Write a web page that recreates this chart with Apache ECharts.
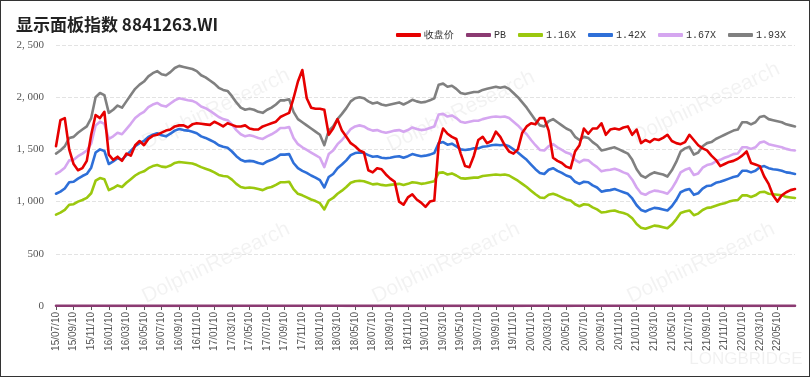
<!DOCTYPE html>
<html>
<head>
<meta charset="utf-8">
<script src="https://cdn.jsdelivr.net/npm/echarts@6/dist/echarts.min.js"></script>
<style>
html,body{margin:0;padding:0;background:#fff;}
#wrap{width:808px;height:375px;border:1px solid #333;}
#chart{width:808px;height:375px;}
</style>
</head>
<body>
<div id="wrap"><div id="chart"></div></div>
<script>
const categories = [
'15/07/10','15/07/25','15/08/10','15/08/25','15/09/10','15/09/25','15/10/10','15/10/25','15/11/10','15/11/25','15/12/10','15/12/25',
'16/01/10','16/01/25','16/02/10','16/02/25','16/03/10','16/03/25','16/04/10','16/04/25','16/05/10','16/05/25','16/06/10','16/06/25','16/07/10','16/07/25','16/08/10','16/08/25','16/09/10','16/09/25','16/10/10','16/10/25','16/11/10','16/11/25','16/12/10','16/12/25',
'17/01/10','17/01/25','17/02/10','17/02/25','17/03/10','17/03/25','17/04/10','17/04/25','17/05/10','17/05/25','17/06/10','17/06/25','17/07/10','17/07/25','17/08/10','17/08/25','17/09/10','17/09/25','17/10/10','17/10/25','17/11/10','17/11/25','17/12/10','17/12/25',
'18/01/10','18/01/25','18/02/10','18/02/25','18/03/10','18/03/25','18/04/10','18/04/25','18/05/10','18/05/25','18/06/10','18/06/25','18/07/10','18/07/25','18/08/10','18/08/25','18/09/10','18/09/25','18/10/10','18/10/25','18/11/10','18/11/25','18/12/10','18/12/25',
'19/01/10','19/01/25','19/02/10','19/02/25','19/03/10','19/03/25','19/04/10','19/04/25','19/05/10','19/05/25','19/06/10','19/06/25','19/07/10','19/07/25','19/08/10','19/08/25','19/09/10','19/09/25','19/10/10','19/10/25','19/11/10','19/11/25','19/12/10','19/12/25',
'20/01/10','20/01/25','20/02/10','20/02/25','20/03/10','20/03/25','20/04/10','20/04/25','20/05/10','20/05/25','20/06/10','20/06/25','20/07/10','20/07/25','20/08/10','20/08/25','20/09/10','20/09/25','20/10/10','20/10/25','20/11/10','20/11/25','20/12/10','20/12/25',
'21/01/10','21/01/25','21/02/10','21/02/25','21/03/10','21/03/25','21/04/10','21/04/25','21/05/10','21/05/25','21/06/10','21/06/25','21/07/10','21/07/25','21/08/10','21/08/25','21/09/10','21/09/25','21/10/10','21/10/25','21/11/10','21/11/25','21/12/10','21/12/25',
'22/01/10','22/01/25','22/02/10','22/02/25','22/03/10','22/03/25','22/04/10','22/04/25','22/05/10','22/05/25','22/06/10','22/06/25','22/07/10'
];

const closePrice = [
1530,1780,1800,1500,1360,1300,1320,1390,1640,1830,
1800,1860,1450,1400,1430,1390,1460,1440,1540,1580,
1540,1600,1630,1640,1660,1680,1690,1720,1730,1730,
1710,1740,1750,1745,1740,1735,1765,1745,1720,1750,
1735,1720,1720,1730,1700,1690,1690,1720,1735,1750,
1765,1810,1830,1850,1990,2150,2260,1990,1900,1890,
1890,1880,1640,1700,1790,1680,1620,1560,1530,1490,
1470,1300,1280,1320,1310,1260,1220,1190,1000,970,
1040,1070,1020,990,950,1000,1010,1550,1700,1650,
1620,1600,1460,1340,1330,1440,1590,1620,1560,1580,
1670,1620,1540,1480,1460,1500,1660,1720,1750,1740,
1800,1800,1680,1420,1390,1370,1335,1320,1480,1540,
1700,1650,1700,1700,1750,1640,1690,1700,1690,1710,
1720,1640,1690,1560,1590,1570,1600,1590,1610,1640,
1580,1560,1550,1570,1640,1590,1540,1510,1490,1440,
1400,1340,1360,1380,1390,1410,1440,1480,1370,1355,
1340,1240,1170,1060,1000,1060,1090,1110,1120
];

const pb = [
2.02,2.31,2.27,1.80,1.62,1.51,1.51,1.56,1.76,1.77,
1.70,1.78,1.51,1.44,1.44,1.41,1.44,1.38,1.43,1.44,
1.38,1.40,1.41,1.41,1.44,1.47,1.46,1.46,1.45,1.46,
1.45,1.48,1.50,1.52,1.53,1.55,1.60,1.61,1.60,1.64,
1.67,1.70,1.75,1.78,1.74,1.73,1.75,1.79,1.78,1.78,
1.77,1.77,1.79,1.80,2.06,2.32,2.48,2.22,2.16,2.18,
2.22,2.36,1.88,1.91,1.93,1.76,1.65,1.54,1.48,1.44,
1.43,1.28,1.27,1.31,1.31,1.27,1.22,1.18,0.99,0.97,
1.03,1.05,1.00,0.98,0.94,0.98,0.98,1.41,1.54,1.52,
1.48,1.48,1.38,1.27,1.26,1.36,1.50,1.51,1.45,1.46,
1.53,1.50,1.42,1.37,1.38,1.45,1.64,1.75,1.84,1.89,
2.01,2.02,1.83,1.53,1.52,1.53,1.52,1.52,1.76,1.87,
2.03,1.98,2.09,2.13,2.27,2.11,2.16,2.16,2.17,2.23,
2.27,2.26,2.50,2.41,2.49,2.40,2.41,2.42,2.47,2.55,
2.35,2.18,2.02,2.01,2.08,2.12,2.02,1.90,1.84,1.77,
1.69,1.60,1.60,1.60,1.60,1.61,1.58,1.62,1.52,1.49,
1.43,1.31,1.26,1.15,1.09,1.16,1.21,1.24,1.26
];

const band116 = [
875,895,920,970,975,1000,1015,1035,1080,1200,
1225,1215,1110,1130,1155,1140,1180,1215,1250,1275,
1290,1320,1340,1350,1335,1330,1345,1370,1380,1375,
1370,1365,1350,1330,1315,1300,1280,1255,1245,1240,
1210,1170,1140,1130,1135,1130,1120,1110,1130,1140,
1160,1185,1185,1190,1120,1075,1060,1040,1020,1005,
985,925,1010,1035,1075,1105,1140,1180,1195,1200,
1195,1180,1165,1170,1160,1155,1160,1165,1170,1160,
1170,1185,1180,1170,1175,1185,1195,1275,1280,1260,
1270,1250,1225,1220,1225,1230,1230,1245,1250,1255,
1260,1255,1260,1250,1225,1200,1170,1140,1105,1070,
1040,1035,1065,1075,1060,1040,1020,1010,975,955,
975,970,945,925,895,900,910,915,900,890,
875,840,785,750,740,755,770,765,755,745,
780,830,890,905,915,870,885,920,940,945,
960,975,985,1000,1010,1015,1060,1060,1045,1060,
1090,1095,1075,1070,1065,1060,1045,1040,1035
];

const band142 = [
1075,1095,1125,1185,1190,1220,1245,1265,1325,1470,
1500,1485,1360,1385,1415,1400,1445,1485,1530,1560,
1580,1620,1640,1655,1635,1625,1650,1680,1695,1685,
1680,1670,1655,1625,1610,1590,1570,1540,1525,1515,
1480,1435,1400,1385,1390,1385,1370,1360,1385,1400,
1420,1450,1450,1455,1370,1320,1295,1275,1250,1230,
1205,1135,1235,1265,1320,1355,1395,1445,1465,1470,
1465,1445,1430,1435,1420,1415,1420,1430,1435,1420,
1435,1455,1445,1435,1440,1450,1465,1560,1570,1545,
1555,1530,1500,1495,1500,1510,1510,1525,1530,1540,
1545,1540,1545,1530,1500,1470,1435,1400,1355,1310,
1275,1265,1305,1320,1295,1275,1250,1235,1190,1170,
1190,1185,1155,1135,1095,1105,1110,1120,1105,1090,
1075,1030,965,920,905,925,940,935,925,915,
955,1015,1090,1110,1120,1065,1080,1125,1150,1155,
1180,1190,1205,1220,1235,1245,1295,1295,1280,1295,
1330,1340,1320,1310,1305,1295,1280,1275,1265
];

const band167 = [
1265,1290,1325,1395,1400,1435,1460,1490,1555,1730,
1765,1745,1600,1625,1660,1645,1695,1745,1800,1835,
1860,1905,1930,1945,1920,1910,1940,1970,1990,1980,
1970,1965,1945,1910,1895,1870,1840,1810,1790,1780,
1740,1685,1645,1625,1635,1625,1610,1600,1625,1645,
1670,1705,1705,1715,1610,1550,1520,1495,1470,1445,
1420,1330,1455,1490,1550,1590,1640,1695,1720,1730,
1720,1695,1680,1685,1670,1660,1670,1680,1685,1670,
1685,1710,1695,1685,1690,1705,1720,1835,1840,1815,
1825,1800,1765,1755,1765,1775,1775,1790,1800,1810,
1815,1810,1815,1800,1765,1730,1685,1645,1590,1540,
1495,1490,1530,1550,1520,1495,1470,1455,1400,1375,
1400,1395,1360,1330,1290,1300,1305,1315,1300,1280,
1265,1210,1135,1080,1065,1090,1105,1100,1090,1075,
1125,1195,1280,1305,1320,1255,1270,1325,1350,1360,
1385,1400,1420,1435,1455,1460,1520,1520,1505,1520,
1565,1575,1550,1540,1530,1520,1505,1495,1490
];

const band193 = [
1460,1490,1530,1610,1620,1660,1690,1720,1800,2000,
2040,2020,1850,1880,1920,1900,1960,2020,2080,2120,
2150,2200,2230,2250,2220,2210,2240,2280,2300,2290,
2280,2270,2250,2210,2190,2160,2130,2090,2070,2060,
2010,1950,1900,1880,1890,1880,1860,1850,1880,1900,
1930,1970,1970,1980,1860,1790,1760,1730,1700,1670,
1640,1540,1680,1720,1790,1840,1895,1960,1990,2000,
1990,1960,1940,1950,1930,1920,1930,1940,1950,1930,
1950,1975,1960,1950,1955,1970,1990,2120,2130,2100,
2110,2080,2040,2030,2040,2050,2050,2070,2080,2090,
2100,2090,2100,2080,2040,2000,1950,1900,1840,1780,
1730,1720,1770,1790,1760,1730,1700,1680,1620,1590,
1620,1610,1570,1540,1490,1500,1510,1520,1500,1480,
1460,1400,1310,1250,1230,1260,1280,1270,1260,1240,
1300,1380,1480,1510,1525,1450,1470,1530,1560,1570,
1600,1620,1640,1660,1680,1690,1760,1760,1740,1760,
1810,1820,1790,1780,1770,1760,1740,1730,1720
];

const seriesNames = ['收盘价','PB','1.16X','1.42X','1.67X','1.93X'];
const seriesColors = ['#e60000','#8b3a72','#9bc80e','#2e6fd8','#d5a6f0','#808080'];
const yTicks = [0, 500, 1000, 1500, 2000, 2500];

const labelShown = (idx) => idx % 4 === 0 && idx <= 164;

function mk(name, data, color, z) {
  return {
    name: name, type: 'line', data: data, symbol: 'none', z: z,
    lineStyle: { width: 2.6, color: color, cap: 'round', join: 'round' },
    itemStyle: { color: color },
    emphasis: { disabled: true }
  };
}

const wm = [];
const wmPos = [[215,108],[460,110],[705,102],[215,262],[445,262],[700,262]];
wmPos.forEach(p => {
  wm.push({
    type: 'text', x: p[0], y: p[1], rotation: Math.PI / 7, z: 0,
    style: { text: 'DolphinResearch', fontSize: 21, fontFamily: 'Liberation Sans',
      fill: 'rgba(0,0,0,0.05)', align: 'center', verticalAlign: 'middle' }
  });
});
wm.push({ type: 'text', x: 745, y: 358, z: 0,
  style: { text: 'LONGBRIDGE', fontSize: 17, fontFamily: 'Liberation Sans', fill: 'rgba(0,0,0,0.06)', align: 'center', verticalAlign: 'middle' } });

const chart = echarts.init(document.getElementById('chart'), null, { renderer: 'canvas' });
chart.setOption({
  animation: false,
  backgroundColor: '#fff',
  graphic: wm,
  title: {
    text: '显示面板指数 8841263.WI', left: 10, top: 10,
    textStyle: { fontSize: 17, fontWeight: 'bold', color: '#222', fontFamily: 'Noto Sans CJK SC' }
  },
  legend: {
    data: seriesNames, right: 18, top: 24,
    icon: 'roundRect', itemWidth: 25, itemHeight: 4, itemGap: 12,
    textStyle: { fontSize: 10, color: '#333', fontFamily: 'Liberation Mono', padding: [0, 0, 0, -2] }
  },
  grid: { left: 55, right: 14, top: 44, bottom: 70, containLabel: false },
  xAxis: {
    type: 'category', data: categories, boundaryGap: false,
    axisLine: { lineStyle: { color: '#999', width: 1 } },
    axisTick: { show: true, interval: (i) => labelShown(i), length: 4, lineStyle: { color: '#555' } },
    axisLabel: { interval: (i) => labelShown(i), rotate: 90, fontSize: 10, color: '#555',
      fontFamily: 'Liberation Sans', margin: 6 },
    splitLine: { show: false }
  },
  yAxis: {
    type: 'value', min: yTicks[0], max: yTicks[yTicks.length - 1], interval: 500,
    axisLine: { show: false }, axisTick: { show: false },
    axisLabel: { fontSize: 11, color: '#555', fontFamily: 'Liberation Serif', margin: 12,
      formatter: (v) => v >= 1000 ? Math.floor(v / 1000) + ', ' + String(v % 1000).padStart(3, '0') : String(v) },
    splitLine: { lineStyle: { color: '#e3e3e3', type: 'dashed', width: 1 } }
  },
  series: [
    mk('PB', pb, seriesColors[1], 2),
    mk('1.16X', band116, seriesColors[2], 3),
    mk('1.42X', band142, seriesColors[3], 4),
    mk('1.67X', band167, seriesColors[4], 5),
    mk('1.93X', band193, seriesColors[5], 6),
    mk('收盘价', closePrice, seriesColors[0], 7)
  ]
});
</script>
</body>
</html>
